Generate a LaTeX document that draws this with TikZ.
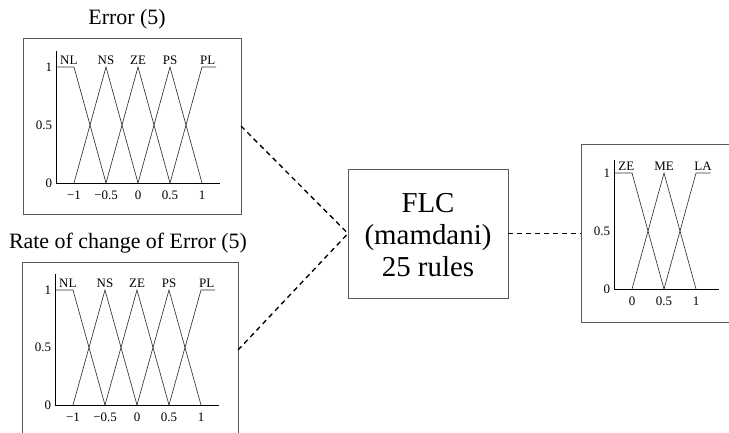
\documentclass[tikz,border=0pt]{standalone}
\usepackage{fontspec}
\setmainfont{Liberation Serif}
\tikzset{
  box/.style={draw=black!65, line width=0.9bp, inner sep=0pt, outer sep=0pt},
  mf/.style={draw=black!80, line width=0.65bp},
  axisline/.style={draw=black, line width=1bp},
  lbl/.style={font=\fontsize{13}{15}\selectfont, inner sep=0pt},
  conn/.style={draw=black, line width=1.35bp, dash pattern=on 5bp off 4bp},
  titletext/.style={font=\fontsize{22}{24}\selectfont, inner sep=0pt},
  flctext/.style={font=\fontsize{29}{32.5}\selectfont, align=center, inner sep=0pt},
}
\newcommand{\inplot}[1]{%
  \draw[axisline] (-1.266,1.138) -- (-1.266,0) -- (1.281,0);
  \draw[mf] (-1.266,1) -- (-1,1) -- (-0.5,0);
  \draw[mf] (-1,0) -- (-0.5,1) -- (0,0);
  \draw[mf] (-0.5,0) -- (0,1) -- (0.5,0);
  \draw[mf] (0,0) -- (0.5,1) -- (1,0);
  \draw[mf] (0.5,0) -- (1,1) -- (1.22,1);
  \node[lbl] (#1NL) at (-1.08,1.06) {NL};
  \node[lbl] (#1NS) at (-0.5,1.06) {NS};
  \node[lbl] (#1ZE) at (0,1.06) {ZE};
  \node[lbl] (#1PS) at (0.5,1.06) {PS};
  \node[lbl] (#1PL) at (1.09,1.06) {PL};
  \node[lbl,anchor=east] (#1ya) at (-1.34,1) {1};
  \node[lbl,anchor=east] (#1yb) at (-1.34,0.5) {0.5};
  \node[lbl,anchor=east] (#1yc) at (-1.34,0) {0};
  \node[lbl] (#1xa) at (-1,-0.105) {−1};
  \node[lbl] (#1xb) at (-0.5,-0.105) {−0.5};
  \node[lbl] (#1xc) at (0,-0.105) {0};
  \node[lbl] (#1xd) at (0.5,-0.105) {0.5};
  \node[lbl] (#1xe) at (1,-0.105) {1};
}
\begin{document}
\begin{tikzpicture}[x=1bp,y=-1bp]
  \useasboundingbox (0,0) rectangle (729,432);
  \clip (0,0) rectangle (729,432);

  % boxes
  \node[box, minimum width=218bp, minimum height=176bp] (err) at (132,126) {};
  \node[box, minimum width=216bp, minimum height=176bp] (rate) at (130,350) {};
  \node[box, minimum width=160bp, minimum height=129bp] (flc) at (428,233.5) {};
  \node[box, minimum width=200bp, minimum height=178bp] (out) at (681,233.5) {};

  % titles
  \node[titletext] (errtitle) at (127,19) {Error (5)};
  \node[titletext] (ratetitle) at (128,243) {Rate of change of Error (5)};

  % FLC text
  \node[flctext] (flclabel) at (428,235) {FLC\\(mamdani)\\25 rules};

  % input plots
  \begin{scope}[shift={(138bp,-183bp)}, x=64bp, y=116bp]
    \inplot{e}
  \end{scope}
  \begin{scope}[shift={(137bp,-405bp)}, x=64bp, y=115bp]
    \inplot{r}
  \end{scope}

  % output plot
  \begin{scope}[shift={(632bp,-289bp)}, x=64bp, y=116bp]
    \draw[axisline] (-0.266,1.11) -- (-0.266,0) -- (1.36,0);
    \draw[mf] (-0.266,1) -- (0,1) -- (0.5,0);
    \draw[mf] (0,0) -- (0.5,1) -- (1,0);
    \draw[mf] (0.5,0) -- (1,1) -- (1.23,1);
    \node[lbl] (oZE) at (-0.09,1.06) {ZE};
    \node[lbl] (oME) at (0.5,1.06) {ME};
    \node[lbl] (oLA) at (1.11,1.06) {LA};
    \node[lbl,anchor=east] (oya) at (-0.34,1) {1};
    \node[lbl,anchor=east] (oyb) at (-0.34,0.5) {0.5};
    \node[lbl,anchor=east] (oyc) at (-0.34,0) {0};
    \node[lbl] (oxa) at (0,-0.105) {0};
    \node[lbl] (oxb) at (0.5,-0.105) {0.5};
    \node[lbl] (oxc) at (1,-0.105) {1};
  \end{scope}

  % connectors
  \draw[conn] (err.east) -- (flc.west);
  \draw[conn] (rate.east) -- (flc.west);
  \draw[conn] (flc.east) -- (out.west);
\end{tikzpicture}
\end{document}
